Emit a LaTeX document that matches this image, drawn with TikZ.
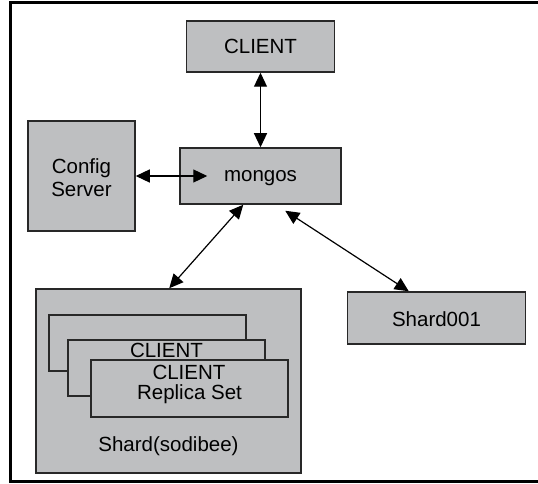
\documentclass[tikz,border=0pt]{standalone}
\usepackage{fontspec}
\setmainfont{Liberation Sans}
\usetikzlibrary{arrows.meta,calc}
\definecolor{boxgray}{RGB}{190,191,193}
\definecolor{edgegray}{RGB}{40,40,40}
\begin{document}
\begin{tikzpicture}[x=1pt,y=-1pt,
  box/.style={draw=edgegray,line width=1.5pt,fill=boxgray,inner sep=0pt,rectangle},
  txt/.style={anchor=base,inner sep=0pt,font=\fontsize{20.5}{24}\selectfont},
  link/.style={line width=1.2pt,{Triangle[length=14pt,width=13pt]}-{Triangle[length=14pt,width=13pt]}}]
\useasboundingbox (0,0) rectangle (538,484);
\draw[line width=3pt] (538,3) -- (10.5,3) -- (10.5,481) -- (538,481);
% boxes
\node[box,minimum width=148pt,minimum height=51pt] (client) at (260.5,46.5) {};
\node[txt] (clientt) at (260.5,54) {CLIENT};
\node[box,minimum width=161pt,minimum height=56pt] (mongos) at (260.5,176) {};
\node[txt] (mongost) at (260.5,181) {mongos};
\node[box,minimum width=107pt,minimum height=110pt] (config) at (81.5,176) {};
\node[txt] (configt1) at (81.5,173.3) {Config};
\node[txt] (configt2) at (81.5,196.6) {Server};
\node[box,minimum width=178pt,minimum height=52pt] (shard001) at (436.5,318) {};
\node[txt] (shard001t) at (436.5,326.8) {Shard001};
\node[box,minimum width=265pt,minimum height=184pt] (shard) at (168.5,381) {};
\node[box,minimum width=197pt,minimum height=56pt] (r1) at (147.5,343) {};
\node[box,minimum width=197pt,minimum height=56pt] (r2) at (166.5,368) {};
\node[txt] (r2t) at (166.5,357.7) {CLIENT};
\node[box,minimum width=197pt,minimum height=57pt] (r3) at (189.5,388.5) {};
\node[txt] (r3t1) at (189,379) {CLIENT};
\node[txt] (r3t2) at (189.5,399.6) {Replica Set};
\node[txt] (shardt) at (168.5,451) {Shard(sodibee)};
% connectors
\draw[link] (client.south) -- (mongos.north);
\draw[link] (config.east) -- ($(mongos.west)+(28,0)$);
\draw[link] ($(mongos.south west)+(64,0)$) -- ($(shard.north west)+(134,0)$);
\draw[link] ($(mongos.south west)+(106,6)$) -- ($(shard001.north west)+(62,0)$);
\end{tikzpicture}
\end{document}
